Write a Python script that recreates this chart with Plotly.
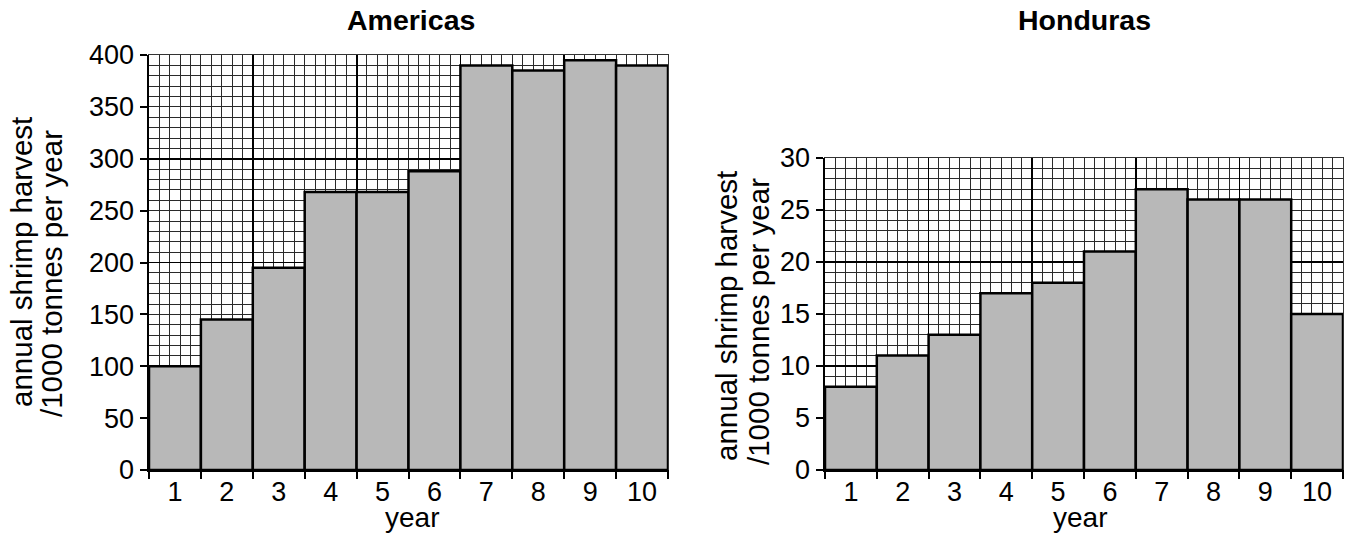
import plotly.graph_objects as go

# ---- data ----
years = [1, 2, 3, 4, 5, 6, 7, 8, 9, 10]
year_labels = ["1", "2", "3", "4", "5", "6", "7", "8", "9", "10"]
americas = [100, 145, 195, 268, 268, 288, 390, 385, 395, 390]
honduras = [8, 11, 13, 17, 18, 21, 27, 26, 26, 15]
americas_yticks = [0, 50, 100, 150, 200, 250, 300, 350, 400]
honduras_yticks = [0, 5, 10, 15, 20, 25, 30]

W, H = 1351, 538
FONT = "Liberation Sans, Arial, Helvetica, sans-serif"
BAR_FILL = "#b8b8b8"

def px_x(p):
    return p / W

def px_y(p):
    return (H - p) / H

# plot area geometry (pixels)
L1, R1 = 149, 668
L2, R2 = 825, 1343
BOTTOM = 470
TOP1, TOP2 = 55, 158

boundaries = [y - 0.5 for y in years] + [years[-1] + 0.5]
xrange_ = [years[0] - 0.5, years[-1] + 0.5]

fig = go.Figure()

# invisible traces to create grid subplots
for xa, ya in (("x", "y"), ("x2", "y2")):
    fig.add_trace(go.Scatter(x=[years[0]], y=[0], mode="markers",
                             marker=dict(opacity=0), hoverinfo="skip",
                             showlegend=False, xaxis=xa, yaxis=ya))

fig.add_trace(go.Bar(x=years, y=americas, width=1, xaxis="x3", yaxis="y3",
                     marker=dict(color=BAR_FILL, line=dict(color="black", width=2.5)),
                     showlegend=False, hoverinfo="skip"))
fig.add_trace(go.Bar(x=years, y=honduras, width=1, xaxis="x4", yaxis="y4",
                     marker=dict(color=BAR_FILL, line=dict(color="black", width=2.5)),
                     showlegend=False, hoverinfo="skip"))

def grid_x(domain, anchor):
    return dict(domain=domain, anchor=anchor, range=xrange_, tick0=0.5, dtick=2,
                showgrid=True, gridcolor="black", gridwidth=1.8,
                ticks="", showticklabels=False, zeroline=False,
                showline=True, mirror=True, linecolor="#333", linewidth=1.2,
                minor=dict(tick0=0.5, dtick=0.2, showgrid=True,
                           gridcolor="#2a2a2a", gridwidth=1, ticks=""),
                automargin=False, fixedrange=True)

def grid_y(domain, anchor, rng, major, minor):
    return dict(domain=domain, anchor=anchor, range=rng, tick0=0, dtick=major,
                showgrid=True, gridcolor="black", gridwidth=1.8,
                ticks="", showticklabels=False, zeroline=False,
                showline=True, mirror=True, linecolor="#333", linewidth=1.2,
                minor=dict(tick0=0, dtick=minor, showgrid=True,
                           gridcolor="#2a2a2a", gridwidth=1, ticks=""),
                automargin=False, fixedrange=True)

def data_x(over, anchor):
    return dict(overlaying=over, anchor=anchor, range=xrange_,
                tickmode="array", tickvals=years, ticktext=year_labels,
                ticks="", ticklabelstandoff=-3,
                tickfont=dict(family=FONT, size=27, color="black"),
                showgrid=False, zeroline=False,
                showline=True, linecolor="black", linewidth=2,
                minor=dict(tickmode="array", tickvals=boundaries,
                           ticks="outside", ticklen=7, tickwidth=2,
                           tickcolor="black", showgrid=False),
                automargin=False, fixedrange=True)

def data_y(over, anchor, rng, ticks):
    return dict(overlaying=over, anchor=anchor, range=rng,
                tickmode="array", tickvals=ticks,
                ticks="outside", ticklen=7, tickwidth=2, tickcolor="black",
                tickfont=dict(family=FONT, size=27, color="black"),
                showgrid=False, zeroline=False,
                showline=True, linecolor="black", linewidth=2.5,
                automargin=False, fixedrange=True)

fig.update_layout(
    template="none",
    width=W, height=H,
    margin=dict(l=0, r=0, t=0, b=0, pad=0, autoexpand=False),
    paper_bgcolor="white", plot_bgcolor="white",
    bargap=0, showlegend=False, hovermode=False,
    xaxis=grid_x([px_x(L1), px_x(R1)], "y"),
    yaxis=grid_y([px_y(BOTTOM), px_y(TOP1)], "x", [0, 400], 100, 10),
    xaxis2=grid_x([px_x(L2), px_x(R2)], "y2"),
    yaxis2=grid_y([px_y(BOTTOM), px_y(TOP2)], "x2", [0, 30], 10, 1),
    xaxis3=data_x("x", "y3"),
    yaxis3=data_y("y", "x3", [0, 400], americas_yticks),
    xaxis4=data_x("x2", "y4"),
    yaxis4=data_y("y2", "x4", [0, 30], honduras_yticks),
)

ann = []
def add_text(text, x, y, size=29.5, angle=0, bold=False):
    ann.append(dict(text=f"<b>{text}</b>" if bold else text,
                    x=px_x(x), y=px_y(y), xref="paper", yref="paper",
                    xanchor="center", yanchor="middle", showarrow=False,
                    textangle=angle,
                    font=dict(family=FONT, size=size, color="black")))

add_text("Americas", 411, 20, size=28.5, bold=True)
add_text("Honduras", 1084, 20, size=28.5, bold=True)
add_text("annual shrimp harvest", 21, 262, angle=-90)
add_text("/1000 tonnes per year", 51, 274, angle=-90)
add_text("annual shrimp harvest", 726, 316, angle=-90)
add_text("/1000 tonnes per year", 758, 322, angle=-90)
add_text("year", 412, 517, size=28)
add_text("year", 1080, 517, size=28)
fig.update_layout(annotations=ann)

fig.write_html(
    "out.html",
    config={"displayModeBar": False, "staticPlot": True},
    post_script="document.body.style.margin='0';document.body.style.overflow='hidden';",
)
